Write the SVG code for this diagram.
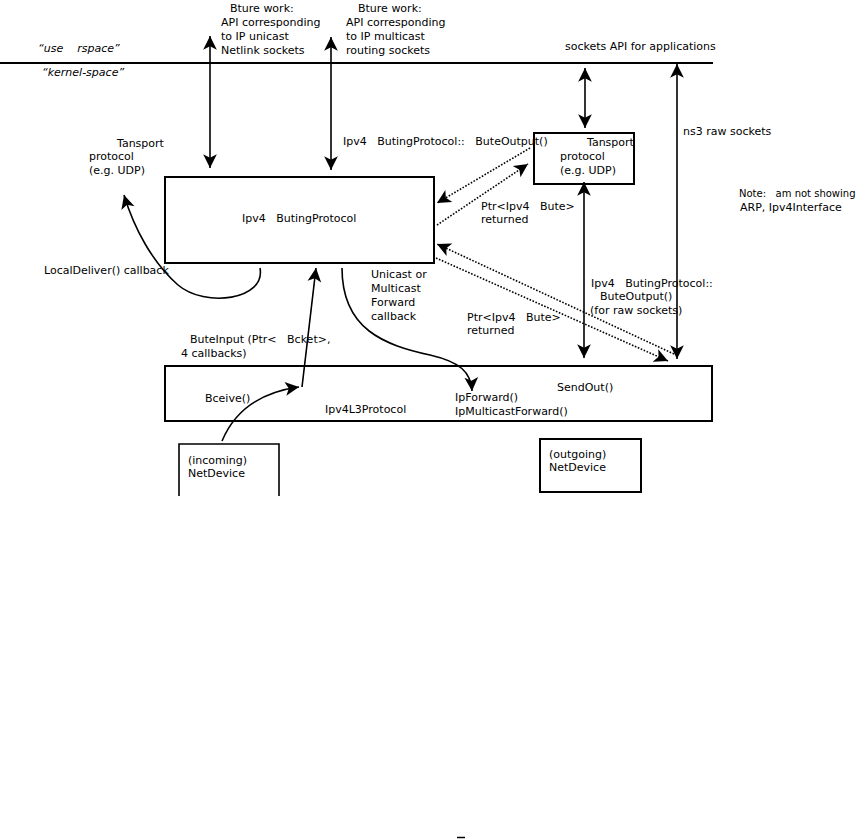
<svg xmlns="http://www.w3.org/2000/svg" width="865" height="839" viewBox="0 0 865 839">
<style>
text{font-family:"DejaVu Sans","Liberation Sans",sans-serif;font-size:11px;fill:#000;white-space:pre}
.it{font-style:italic}
.box{fill:none;stroke:#000;stroke-width:2}
.ln{fill:none;stroke:#000;stroke-width:1.6}
.dot{fill:none;stroke:#000;stroke-width:1.6;stroke-dasharray:1.6,1.6}
</style>
<defs>
<marker id="ah" markerUnits="userSpaceOnUse" markerWidth="16" markerHeight="16" viewBox="-13 -7 14 14" refX="0" refY="0" orient="auto-start-reverse">
<path d="M0,0 L-12,-6 L-9,0 L-12,6 Z" fill="#000"/>
</marker>
</defs>
<rect width="865" height="839" fill="#fff"/>
<line x1="0" y1="63" x2="713" y2="63" stroke="#000" stroke-width="2"/>
<text class="it" x="38" y="52" xml:space="preserve">“use    rspace”</text>
<text class="it" x="42" y="76">“kernel-space”</text>
<g id="note1">
<text x="230" y="12">Bture work:</text>
<text x="221" y="26">API corresponding</text>
<text x="221" y="40">to IP unicast</text>
<text x="221" y="54">Netlink sockets</text>
</g>
<g id="note2">
<text x="358" y="12">Bture work:</text>
<text x="346" y="26">API corresponding</text>
<text x="346" y="40">to IP multicast</text>
<text x="346" y="54">routing sockets</text>
</g>
<text x="565" y="50">sockets API for applications</text>
<text x="683" y="135">ns3 raw sockets</text>
<text x="739" y="197" xml:space="preserve" style="font-size:10px">Note:   am not showing</text>
<text x="740" y="211">ARP, Ipv4Interface</text>
<g id="transport-left">
<text x="117" y="147">Tansport</text>
<text x="89" y="160">protocol</text>
<text x="89" y="174">(e.g. UDP)</text>
</g>
<g id="transport-right">
<rect class="box" x="534" y="133" width="100" height="51"/>
<text x="587" y="146">Tansport</text>
<text x="560" y="160">protocol</text>
<text x="560" y="174">(e.g. UDP)</text>
</g>
<g id="routing">
<rect class="box" x="165" y="177" width="269" height="86"/>
<text x="242" y="222" xml:space="preserve">Ipv4   ButingProtocol</text>
</g>
<g id="l3">
<rect class="box" x="165" y="366" width="547" height="55"/>
<text x="205" y="402">Bceive()</text>
<text x="325" y="413">Ipv4L3Protocol</text>
<text x="557" y="391">SendOut()</text>
<text x="455" y="401">IpForward()</text>
<text x="455" y="415">IpMulticastForward()</text>
</g>
<g id="incoming">
<path class="ln" d="M179,496 V444 H279 V496"/>
<text x="188" y="464">(incoming)</text>
<text x="188" y="477">NetDevice</text>
</g>
<g id="outgoing">
<rect class="box" x="540" y="439" width="101" height="53"/>
<text x="549" y="458">(outgoing)</text>
<text x="549" y="471">NetDevice</text>
</g>
<g id="labels">
<text x="343" y="145" xml:space="preserve">Ipv4   ButingProtocol::   ButeOutput()</text>
<text x="481" y="210" xml:space="preserve">Ptr&lt;Ipv4   Bute&gt;</text>
<text x="481" y="223">returned</text>
<text x="44" y="274">LocalDeliver() callback</text>
<text x="371" y="278">Unicast or</text>
<text x="371" y="292">Multicast</text>
<text x="371" y="306">Forward</text>
<text x="371" y="320">callback</text>
<text x="190" y="343" xml:space="preserve">ButeInput (Ptr&lt;   Bcket&gt;,</text>
<text x="181" y="357">4 callbacks)</text>
<text x="591" y="287" xml:space="preserve">Ipv4   ButingProtocol::</text>
<text x="600" y="300">ButeOutput()</text>
<text x="590" y="314">(for raw sockets)</text>
<text x="467" y="321" xml:space="preserve">Ptr&lt;Ipv4   Bute&gt;</text>
<text x="467" y="334">returned</text>
</g>
<g id="connectors">
<line class="ln" x1="210" y1="36" x2="210" y2="168" marker-start="url(#ah)" marker-end="url(#ah)"/>
<line class="ln" x1="331" y1="37" x2="331" y2="170" marker-start="url(#ah)" marker-end="url(#ah)"/>
<line class="ln" x1="585" y1="68" x2="585" y2="128" marker-start="url(#ah)" marker-end="url(#ah)"/>
<line class="ln" x1="677" y1="64" x2="677" y2="359" marker-start="url(#ah)" marker-end="url(#ah)"/>
<line class="ln" x1="584" y1="182" x2="584" y2="358" marker-start="url(#ah)" marker-end="url(#ah)"/>
<path class="ln" d="M260,268 C266,300 205,308 178,285 C152,262 134,228 124,195" marker-end="url(#ah)"/>
<line class="ln" x1="302" y1="387" x2="316" y2="268" marker-end="url(#ah)"/>
<path class="ln" d="M222,441 C235,410 262,392 299,387" marker-end="url(#ah)"/>
<path class="ln" d="M342,268 C342,330 385,345 430,355 C460,362 471,372 472,391" marker-end="url(#ah)"/>
<line class="dot" x1="530" y1="148" x2="437" y2="203" marker-end="url(#ah)"/>
<line class="dot" x1="437" y1="225" x2="528" y2="164" marker-end="url(#ah)"/>
<line class="dot" x1="674" y1="354" x2="437" y2="244" marker-end="url(#ah)"/>
<line class="dot" x1="436" y1="258" x2="668" y2="361" marker-end="url(#ah)"/>
</g>
<line x1="457" y1="837.5" x2="465" y2="837.5" stroke="#000" stroke-width="1.5"/>
</svg>
